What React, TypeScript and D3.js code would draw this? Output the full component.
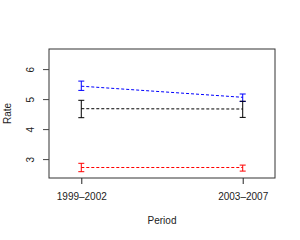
import React, { useEffect, useRef } from "react";
import * as d3 from "d3";

// periods on the x axis
const periods = ["1999\u20132002", "2003\u20132007"];
const yTicks = [3, 4, 5, 6];

// three groups: mean rate and error bar limits for each period
const groupColors = ["blue", "black", "red"];
const means = [
  [5.43, 5.06],
  [4.68, 4.67],
  [2.72, 2.72],
];
const lows = [
  [5.29, 4.92],
  [4.38, 4.39],
  [2.58, 2.6],
];
const highs = [
  [5.6, 5.17],
  [4.96, 4.93],
  [2.86, 2.8],
];

export default function App() {
  const ref = useRef<SVGSVGElement>(null);

  useEffect(() => {
    const svg = d3.select(ref.current);
    svg.selectAll("*").remove();

    const left = 49, right = 275, top = 49, bottom = 178;
    const font = "Liberation Sans, Arial, Helvetica, sans-serif";

    const x = d3.scaleLinear().domain([0.8, 2.2]).range([left, right]);
    const y = d3.scaleLinear().domain([2.37, 6.67]).range([bottom, top]);

    // dashed lines between the periods
    means.forEach((m, g) => {
      svg.append("path")
        .attr("d", d3.line<number>().x((d, i) => x(i + 1)).y((d) => y(d))(m))
        .attr("fill", "none")
        .attr("stroke", groupColors[g])
        .attr("stroke-width", 1)
        .attr("stroke-dasharray", "3,2");
    });

    // error bars
    const cap = 3;
    means.forEach((m, g) => {
      m.forEach((v, i) => {
        const cx = x(i + 1);
        const gEl = svg.append("g")
          .attr("stroke", groupColors[g])
          .attr("stroke-width", 1);
        gEl.append("line")
          .attr("x1", cx).attr("x2", cx)
          .attr("y1", y(lows[g][i])).attr("y2", y(highs[g][i]));
        [lows[g][i], highs[g][i]].forEach((e) => {
          gEl.append("line")
            .attr("x1", cx - cap).attr("x2", cx + cap)
            .attr("y1", y(e)).attr("y2", y(e));
        });
      });
    });

    // box
    svg.append("rect")
      .attr("x", left).attr("y", top)
      .attr("width", right - left).attr("height", bottom - top)
      .attr("fill", "none")
      .attr("stroke", "#333")
      .attr("stroke-width", 1);

    // left axis
    const yAxis = svg.append("g")
      .attr("transform", `translate(${left},0)`)
      .call(d3.axisLeft(y).tickValues(yTicks).tickSize(6).tickFormat(d3.format("d")));
    yAxis.select(".domain").remove();
    yAxis.selectAll(".tick line").attr("stroke", "#444");
    yAxis.selectAll(".tick text")
      .attr("transform", "rotate(-90)")
      .attr("x", 0)
      .attr("y", -15)
      .attr("dy", 0)
      .attr("text-anchor", "middle")
      .attr("font-family", font)
      .attr("font-size", 10)
      .attr("fill", "#222");

    // bottom axis
    const xAxis = svg.append("g")
      .attr("transform", `translate(0,${bottom})`)
      .call(d3.axisBottom(x).tickValues([1, 2]).tickSize(6)
        .tickFormat((d) => periods[(d as number) - 1]));
    xAxis.select(".domain").remove();
    xAxis.selectAll(".tick line").attr("stroke", "#222");
    xAxis.selectAll(".tick text")
      .attr("y", 22)
      .attr("dy", 0)
      .attr("font-family", font)
      .attr("font-size", 10)
      .attr("fill", "#222");

    // axis titles
    svg.append("text")
      .text("Period")
      .attr("x", (left + right) / 2)
      .attr("y", 224)
      .attr("text-anchor", "middle")
      .attr("font-family", font)
      .attr("font-size", 10)
      .attr("fill", "#222");

    svg.append("text")
      .text("Rate")
      .attr("transform", `translate(11,${(top + bottom) / 2}) rotate(-90)`)
      .attr("text-anchor", "middle")
      .attr("font-family", font)
      .attr("font-size", 10)
      .attr("fill", "#222");
  }, []);

  return (
    <svg
      ref={ref}
      width={300}
      height={240}
      style={{ position: "fixed", left: 0, top: 0, background: "white" }}
    />
  );
}
